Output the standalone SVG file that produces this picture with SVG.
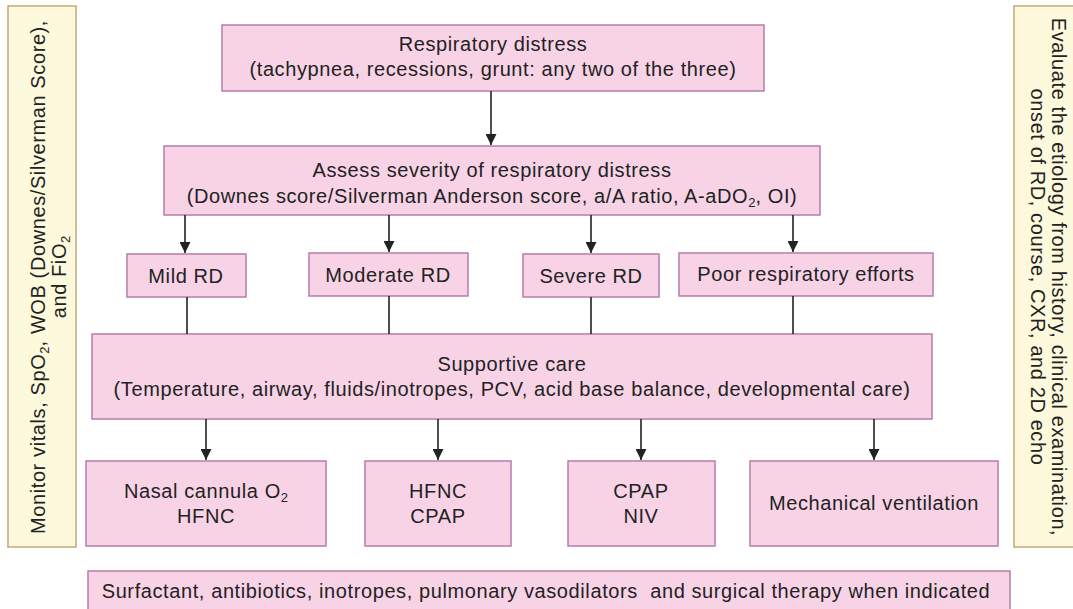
<svg xmlns="http://www.w3.org/2000/svg" width="1073" height="609" viewBox="0 0 1073 609">
<defs>
<style>
.n{fill:#f8d3e6;stroke:#b57cad;stroke-width:1.5}
.s{fill:#fdf9dd;stroke:#c4a878;stroke-width:1.5}
text{font-family:"Liberation Sans",Arial,sans-serif;font-size:20px;letter-spacing:0.6px;fill:#222;text-anchor:middle}
.c{stroke:#222;stroke-width:1.6;fill:none}
.sub{font-size:13px;letter-spacing:0}
</style>
<marker id="a" viewBox="0 0 10 10" refX="10" refY="5" markerWidth="11" markerHeight="11" markerUnits="userSpaceOnUse" orient="auto"><path d="M0,0L10,5L0,10z" fill="#222"/></marker>
</defs>
<rect width="1073" height="609" fill="#fff"/>
<g id="monitor"><rect class="s" x="8" y="6" width="68" height="541"/>
<text transform="translate(45,277) rotate(-90)">Monitor vitals, SpO<tspan class="sub" dy="4">2</tspan><tspan dy="-4">, WOB (Downes/Silverman Score),</tspan></text>
<text transform="translate(66,277) rotate(-90)">and FiO<tspan class="sub" dy="4">2</tspan></text></g>
<g id="evaluate"><rect class="s" x="1014" y="6" width="70" height="541"/>
<text transform="translate(1052,277) rotate(90)">Evaluate the etiology from history, clinical examination,</text>
<text transform="translate(1031,277) rotate(90)">onset of RD, course, CXR, and 2D echo</text></g>
<g id="resp"><rect class="n" x="222" y="25" width="542" height="66"/>
<text x="493" y="51">Respiratory distress</text>
<text x="493" y="76">(tachypnea, recessions, grunt: any two of the three)</text></g>
<g id="assess"><rect class="n" x="164" y="146" width="656" height="69"/>
<text x="492" y="177">Assess severity of respiratory distress</text>
<text x="492" y="203">(Downes score/Silverman Anderson score, a/A ratio, A-aDO<tspan class="sub" dy="4">2</tspan><tspan dy="-4">, OI)</tspan></text></g>
<g id="mild"><rect class="n" x="127" y="254" width="119" height="43"/><text x="186" y="283">Mild RD</text></g>
<g id="moderate"><rect class="n" x="309" y="253" width="159" height="43"/><text x="388" y="282">Moderate RD</text></g>
<g id="severe"><rect class="n" x="523" y="254" width="136" height="43"/><text x="591" y="283">Severe RD</text></g>
<g id="poor"><rect class="n" x="679" y="253" width="254" height="43"/><text x="806" y="281">Poor respiratory efforts</text></g>
<g id="supportive"><rect class="n" x="92" y="334" width="840" height="85"/>
<text x="512" y="371">Supportive care</text>
<text x="512" y="396">(Temperature, airway, fluids/inotropes, PCV, acid base balance, developmental care)</text></g>
<g id="nasal"><rect class="n" x="86" y="461" width="240" height="85"/>
<text x="206" y="498">Nasal cannula O<tspan class="sub" dy="4">2</tspan></text><text x="206" y="523">HFNC</text></g>
<g id="hfnc"><rect class="n" x="365" y="461" width="146" height="85"/>
<text x="438" y="498">HFNC</text><text x="438" y="523">CPAP</text></g>
<g id="cpap"><rect class="n" x="568" y="461" width="147" height="85"/>
<text x="641" y="498">CPAP</text><text x="641" y="523">NIV</text></g>
<g id="mech"><rect class="n" x="750" y="461" width="248" height="85"/>
<text x="874" y="510">Mechanical ventilation</text></g>
<g id="surfactant"><rect class="n" x="88" y="571" width="922" height="50"/>
<text x="546" y="598">Surfactant, antibiotics, inotropes, pulmonary vasodilators&#160; and surgical therapy when indicated</text></g>
<g id="connectors">
<line class="c" x1="491" y1="91" x2="491" y2="145" marker-end="url(#a)"/>
<line class="c" x1="185" y1="215" x2="185" y2="253" marker-end="url(#a)"/>
<line class="c" x1="389" y1="215" x2="389" y2="252" marker-end="url(#a)"/>
<line class="c" x1="591" y1="215" x2="591" y2="253" marker-end="url(#a)"/>
<line class="c" x1="793" y1="215" x2="793" y2="252" marker-end="url(#a)"/>
<line class="c" x1="187" y1="297" x2="187" y2="334"/>
<line class="c" x1="389" y1="296" x2="389" y2="334"/>
<line class="c" x1="591" y1="297" x2="591" y2="334"/>
<line class="c" x1="793" y1="296" x2="793" y2="334"/>
<line class="c" x1="206" y1="419" x2="206" y2="460" marker-end="url(#a)"/>
<line class="c" x1="438" y1="419" x2="438" y2="460" marker-end="url(#a)"/>
<line class="c" x1="641" y1="419" x2="641" y2="460" marker-end="url(#a)"/>
<line class="c" x1="874" y1="419" x2="874" y2="460" marker-end="url(#a)"/>
</g>
</svg>
